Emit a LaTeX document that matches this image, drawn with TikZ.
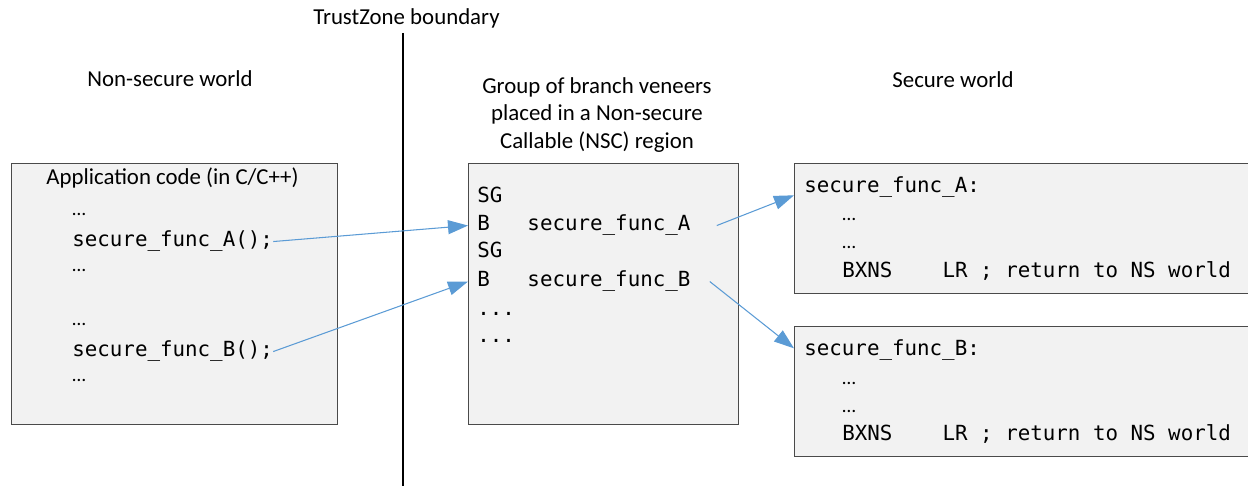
\documentclass[tikz,border=0pt]{standalone}
\usepackage{fontspec}
\setmainfont{Carlito}
\newfontfamily\codefont{DejaVu Sans Mono}
\usetikzlibrary{arrows.meta,calc}

\definecolor{boxfill}{HTML}{F2F2F2}
\definecolor{boxline}{HTML}{4A4A4A}
\definecolor{callblue}{HTML}{5B9BD5}

\tikzset{
  codebox/.style={draw=boxline, fill=boxfill, line width=0.75pt, anchor=north west, inner sep=0pt},
  txt/.style={inner sep=0pt, anchor=base, font=\fontsize{13}{15.6}\selectfont},
  code/.style={inner sep=0pt, anchor=base west, font=\codefont\fontsize{11.85}{14}\selectfont},
  ell/.style={inner sep=0pt, anchor=base west, font=\fontsize{11}{13}\selectfont},
  call/.style={draw=callblue, line width=0.6pt, -{Triangle[length=0.4cm, width=0.28cm]}},
}

\begin{document}
\begin{tikzpicture}[x=0.02cm, y=-0.02cm]
    \useasboundingbox (0,0) rectangle (1248,486);

    % headings and the boundary
    \node [txt] (tzlabel) at (406.5,25) {TrustZone boundary};
    \coordinate (tzTop) at (403,33);
    \coordinate (tzBot) at (403,486);
    \draw [line width=0.6pt] (tzTop) -- (tzBot);
    \node [txt] (nsworld) at (170,87) {Non-secure world};
    \node [txt] (sworld) at (953,88) {Secure world};
    \node [txt, anchor=center, align=center] (nsclabel) at (597,115)
        {Group of branch veneers\\placed in a Non-secure\\Callable (NSC) region};

    % boxes
    \node [codebox, minimum width=6.52cm, minimum height=5.22cm] (app) at (11,163) {};
    \node [codebox, minimum width=5.4cm, minimum height=5.22cm] (nsc) at (468,163) {};
    \node [codebox, minimum width=9.16cm, minimum height=2.6cm] (secA) at (794,163) {};
    \node [codebox, minimum width=9.16cm, minimum height=2.6cm] (secB) at (794,326) {};

    % non-secure application
    \node [txt] (apptitle) at (172.5,185) {Application code (in C/C++)};
    \node [ell] (a1) at (72,216) {…};
    \node [code] (callA) at (72,247) {secure\_func\_A();};
    \node [ell] (a2) at (72,272) {…};
    \node [ell] (a3) at (72,326) {…};
    \node [code] (callB) at (72,357) {secure\_func\_B();};
    \node [ell] (a4) at (72,381) {…};

    % veneers
    \node [code] (sgA) at (477,203) {SG};
    \node [code] (vnrA) at (477,231) {B\ \ \ secure\_func\_A};
    \node [code] (sgB) at (477,258) {SG};
    \node [code] (vnrB) at (477,287) {B\ \ \ secure\_func\_B};
    \node [code] (v1) at (477,316) {...};
    \node [code] (v2) at (477,342) {...};

    % secure functions
    \node [code] (labA) at (804,193) {secure\_func\_A:};
    \node [ell] (sa1) at (842,221) {…};
    \node [ell] (sa2) at (842,249) {…};
    \node [code] (retA) at (842,277) {BXNS\ \ \ \ LR ; return to NS world};
    \node [code] (labB) at (804,356) {secure\_func\_B:};
    \node [ell] (sb1) at (842,384) {…};
    \node [ell] (sb2) at (842,412) {…};
    \node [code] (retB) at (842,440) {BXNS\ \ \ \ LR ; return to NS world};

    % calls
    \draw [call] (callA.east) -- (vnrA.west -| nsc.west);
    \draw [call] (callB.east) -- (vnrB.west -| nsc.west);
    \draw [call] ([xshift=0.52cm]vnrA.east) -- ($(secA.north west)!0.246!(secA.south west)$);
    \draw [call] ([xshift=0.38cm]vnrB.east) -- ($(secB.north west)!0.17!(secB.south west)$);
\end{tikzpicture}
\end{document}
